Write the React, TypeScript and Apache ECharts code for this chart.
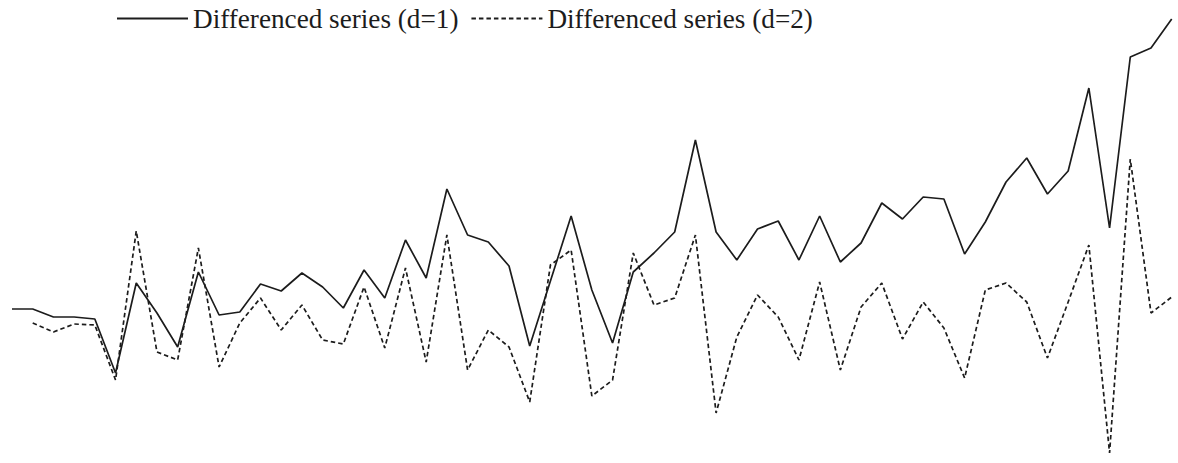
import React, { useEffect, useRef } from "react";
import * as echarts from "echarts";

const periods: string[] = Array.from({ length: 57 }, (_, i) => String(i + 1));

const seriesD1: number[] = [
  0.1, 0.1, -0.7, -0.7, -0.9, -6.3, 2.7, -0.3, -3.7, 3.8,
  -0.5, -0.2, 2.6, 1.9, 3.7, 2.3, 0.2, 4.0, 1.2, 7.0,
  3.2, 12.1, 7.5, 6.8, 4.4, -3.6, 2.9, 9.4, 2.0, -3.3,
  3.8, 5.7, 7.8, 17.0, 7.8, 5.0, 8.1, 8.9, 5.0, 9.4,
  4.8, 6.7, 10.7, 9.1, 11.3, 11.1, 5.6, 8.8, 12.8, 15.2,
  11.6, 13.9, 22.2, 8.2, 25.3, 26.2, 29.1,
];

const seriesD2: (number | null)[] = [
  null, -1.3, -2.2, -1.4, -1.5, -7.0, 7.9, -4.2, -5.0, 6.2,
  -5.7, -1.3, 1.2, -2.0, 0.5, -3.0, -3.4, 2.3, -3.8, 4.2,
  -5.2, 7.5, -6.0, -2.0, -3.7, -9.2, 4.5, 6.0, -8.6, -7.0,
  5.7, 0.5, 1.2, 7.5, -10.3, -2.7, 1.5, -0.7, -5.0, 2.8,
  -6.0, 0.3, 2.7, -2.9, 0.8, -1.8, -6.8, 2.0, 2.7, 0.8,
  -4.8, 0.8, 6.5, -14.3, 15.1, -0.3, 1.3,
];

const legendNames: string[] = ["Differenced series (d=1)", "Differenced series (d=2)"];

const FONT = '"Liberation Serif", "Times New Roman", serif';
const INK = "#1c1c1c";

export default function App() {
  const ref = useRef<HTMLDivElement>(null);

  useEffect(() => {
    if (!ref.current) return;
    const chart = echarts.init(ref.current, undefined, { renderer: "svg" });
    chart.setOption({
      animation: false,
      backgroundColor: "#ffffff",
      textStyle: { fontFamily: FONT },
      legend: {
        data: legendNames,
        left: 116,
        top: 5,
        itemWidth: 71,
        itemHeight: 27,
        itemGap: 12,
        padding: 0,
        itemStyle: { opacity: 0 },
        textStyle: { fontFamily: FONT, fontSize: 27.2, color: INK },
      },
      grid: { left: 12, right: 6.3, top: 10, bottom: 3, containLabel: false },
      xAxis: {
        type: "category",
        data: periods,
        boundaryGap: false,
        axisLine: { show: false },
        axisTick: { show: false },
        axisLabel: { show: false },
        splitLine: { show: false },
      },
      yAxis: {
        type: "value",
        min: -15,
        max: 30,
        axisLine: { show: false },
        axisTick: { show: false },
        axisLabel: { show: false },
        splitLine: { show: false },
      },
      series: [
        {
          name: legendNames[0],
          type: "line",
          data: seriesD1,
          symbol: "none",
          lineStyle: { color: INK, width: 1.7, type: "solid" },
          itemStyle: { color: INK },
        },
        {
          name: legendNames[1],
          type: "line",
          data: seriesD2,
          symbol: "none",
          connectNulls: false,
          lineStyle: { color: INK, width: 1.7, type: [4.5, 3] },
          itemStyle: { color: INK },
        },
      ],
    });
    return () => chart.dispose();
  }, []);

  return (
    <div
      ref={ref}
      style={{ position: "fixed", left: 0, top: 0, width: 1178, height: 463, background: "#fff" }}
    />
  );
}
